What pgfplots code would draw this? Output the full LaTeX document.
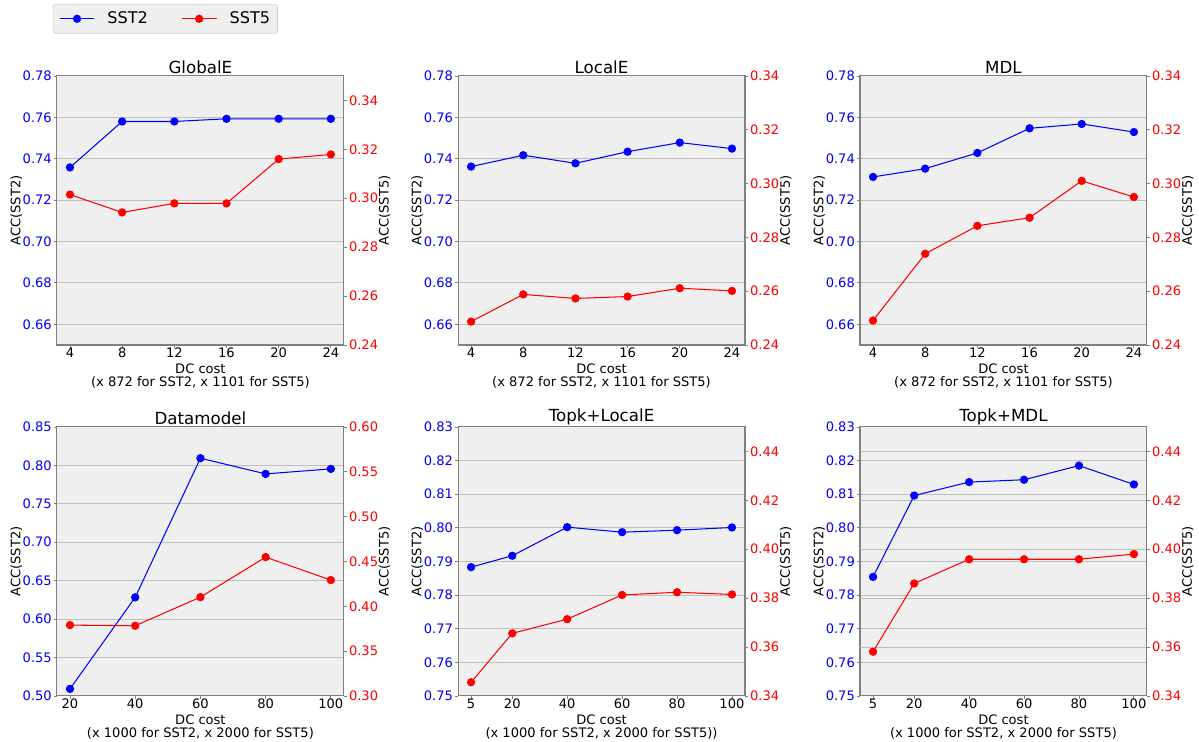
\documentclass[border=0pt]{standalone}
\usepackage{fontspec}
\setmainfont{DejaVu Sans}
\usepackage{pgfplots}
\usepackage{pgfplotstable}
\pgfplotsset{compat=1.18}
\definecolor{bgc}{RGB}{239,239,239}
\definecolor{gridc}{RGB}{190,190,190}
\definecolor{spinec}{RGB}{128,128,128}
\definecolor{legc}{RGB}{204,204,204}

\pgfplotstableread{
x sst2 sst5
4 0.7358 0.3015
8 0.7580 0.2942
12 0.7580 0.2979
16 0.7593 0.2979
20 0.7593 0.3160
24 0.7593 0.3179
}\globale
\pgfplotstableread{
x sst2 sst5
4 0.7362 0.2487
8 0.7417 0.2588
12 0.7378 0.2573
16 0.7434 0.2580
20 0.7478 0.2611
24 0.7449 0.2601
}\locale
\pgfplotstableread{
x sst2 sst5
4 0.7312 0.2491
8 0.7352 0.2739
12 0.7428 0.2843
16 0.7547 0.2873
20 0.7568 0.3010
24 0.7529 0.2950
}\mdl
\pgfplotstableread{
x sst2 sst5
20 0.5092 0.3790
40 0.6283 0.3783
60 0.8093 0.4102
80 0.7889 0.4548
100 0.7954 0.4292
}\datamodel
\pgfplotstableread{
x sst2 sst5
5 0.7883 0.3456
20 0.7917 0.3656
40 0.8002 0.3714
60 0.7987 0.3813
80 0.7993 0.3824
100 0.8001 0.3815
}\topklocale
\pgfplotstableread{
x sst2 sst5
5 0.7854 0.3581
20 0.8096 0.3860
40 0.8136 0.3959
60 0.8143 0.3959
80 0.8185 0.3959
100 0.8129 0.3980
}\topkmdl

\pgfplotsset{
  base/.style={
    scale only axis, width=206.6pt, height=193.7pt,
    tick label style={font=\fontsize{9.4}{11}\selectfont},
    label style={font=\fontsize{9.4}{10.1}\selectfont},
    /pgf/number format/assume math mode=true,
    tick align=outside, major tick length=2pt,
    tick style={spinec, line width=0.6pt},
    axis line style={spinec, line width=0.75pt},
    scaled y ticks=false,
  },
  leftax/.style={
    base,
    axis background/.style={fill=bgc},
    ymajorgrids, major grid style={gridc, line width=0.75pt},
    xtick pos=bottom, ytick pos=left,
    yticklabel style={text=blue, inner xsep=1.5pt, /pgf/number format/fixed, /pgf/number format/fixed zerofill, /pgf/number format/precision=2},
    xticklabel style={yshift=3.7pt},
    ylabel={ACC(SST2)},
    ylabel style={at={(axis description cs:-0.142,0.5)}, anchor=center},
    title style={font=\fontsize{12}{14}\selectfont, yshift=-7.8pt},
    xlabel style={align=center, yshift=2.2pt},
  },
  rightax/.style={
    base,
    axis x line=none, axis y line*=right,
    yticklabel style={text=red, inner xsep=1.5pt, /pgf/number format/fixed, /pgf/number format/fixed zerofill, /pgf/number format/precision=2},
    ylabel={ACC(SST5)},
    ylabel style={at={(axis description cs:1.142,0.5)}, anchor=center},
  },
  s2/.style={blue, line width=0.75pt, mark=*, mark size=2.6pt},
  s5/.style={red, line width=0.75pt, mark=*, mark size=2.6pt},
}

\begin{document}
\begin{tikzpicture}
\useasboundingbox (0,0) rectangle (863.3pt,534.2pt);

% ---------- GlobalE
\begin{axis}[leftax, at={(41pt,285.8pt)}, anchor=south west, title={GlobalE},
  xmin=3, xmax=25, xtick={4,8,12,16,20,24},
  ymin=0.65, ymax=0.78, ytick={0.66,0.68,0.70,0.72,0.74,0.76,0.78},
  xlabel={DC cost\\[-0.7pt](x 872 for SST2, x 1101 for SST5)},
  legend columns=2,
  legend image code/.code={\draw[mark repeat=2,mark phase=2,#1] plot coordinates {(0pt,0pt) (12.5pt,0pt) (25pt,0pt)};},
  legend style={at={(-0.014,1.268)}, anchor=north west, fill=bgc, draw=legc, rounded corners=2pt,
    font=\fontsize{11.6}{13}\selectfont, inner xsep=4.3pt, inner ysep=4.5pt,
    nodes={inner sep=1pt},
    /tikz/column 1/.style={column sep=8pt},
    /tikz/column 2/.style={column sep=23pt},
    /tikz/column 3/.style={column sep=8pt}},
]
\addplot[s2] table[x=x,y=sst2]{\globale};
\addlegendentry{SST2}
\addlegendimage{s5}
\addlegendentry{SST5}
\end{axis}
\begin{axis}[rightax, at={(41pt,285.8pt)}, anchor=south west,
  xmin=3, xmax=25, ymin=0.24, ymax=0.35, ytick={0.24,0.26,0.28,0.30,0.32,0.34}]
\addplot[s5] table[x=x,y=sst5]{\globale};
\end{axis}

% ---------- LocalE
\begin{axis}[leftax, at={(329.8pt,285.8pt)}, anchor=south west, title={LocalE},
  xmin=3, xmax=25, xtick={4,8,12,16,20,24},
  ymin=0.65, ymax=0.78, ytick={0.66,0.68,0.70,0.72,0.74,0.76,0.78},
  xlabel={DC cost\\[-0.7pt](x 872 for SST2, x 1101 for SST5)}]
\addplot[s2] table[x=x,y=sst2]{\locale};
\end{axis}
\begin{axis}[rightax, at={(329.8pt,285.8pt)}, anchor=south west,
  xmin=3, xmax=25, ymin=0.24, ymax=0.34, ytick={0.24,0.26,0.28,0.30,0.32,0.34}]
\addplot[s5] table[x=x,y=sst5]{\locale};
\end{axis}

% ---------- MDL
\begin{axis}[leftax, at={(619.2pt,285.8pt)}, anchor=south west, title={MDL},
  xmin=3, xmax=25, xtick={4,8,12,16,20,24},
  ymin=0.65, ymax=0.78, ytick={0.66,0.68,0.70,0.72,0.74,0.76,0.78},
  xlabel={DC cost\\[-0.7pt](x 872 for SST2, x 1101 for SST5)}]
\addplot[s2] table[x=x,y=sst2]{\mdl};
\end{axis}
\begin{axis}[rightax, at={(619.2pt,285.8pt)}, anchor=south west,
  xmin=3, xmax=25, ymin=0.24, ymax=0.34, ytick={0.24,0.26,0.28,0.30,0.32,0.34}]
\addplot[s5] table[x=x,y=sst5]{\mdl};
\end{axis}

% ---------- Datamodel
\begin{axis}[leftax, at={(41pt,33.1pt)}, anchor=south west, title={Datamodel},
  xmin=16, xmax=104, xtick={20,40,60,80,100},
  ymin=0.50, ymax=0.85, ytick={0.50,0.55,0.60,0.65,0.70,0.75,0.80,0.85},
  xlabel={DC cost\\[-0.7pt](x 1000 for SST2, x 2000 for SST5)}]
\addplot[s2] table[x=x,y=sst2]{\datamodel};
\end{axis}
\begin{axis}[rightax, at={(41pt,33.1pt)}, anchor=south west,
  xmin=16, xmax=104, ymin=0.30, ymax=0.60, ytick={0.30,0.35,0.40,0.45,0.50,0.55,0.60}]
\addplot[s5] table[x=x,y=sst5]{\datamodel};
\end{axis}

% ---------- Topk+LocalE
\begin{axis}[leftax, at={(329.8pt,33.1pt)}, anchor=south west, title={Topk+LocalE},
  xmin=0.25, xmax=104.75, xtick={5,20,40,60,80,100},
  ymin=0.75, ymax=0.83, ytick={0.75,0.76,0.77,0.78,0.79,0.80,0.81,0.82,0.83},
  xlabel={DC cost\\[-0.7pt](x 1000 for SST2, x 2000 for SST5))}]
\addplot[s2] table[x=x,y=sst2]{\topklocale};
\end{axis}
\begin{axis}[rightax, at={(329.8pt,33.1pt)}, anchor=south west,
  xmin=0.25, xmax=104.75, ymin=0.34, ymax=0.45, ytick={0.34,0.36,0.38,0.40,0.42,0.44}]
\addplot[s5] table[x=x,y=sst5]{\topklocale};
\end{axis}

% ---------- Topk+MDL
\begin{axis}[leftax, at={(619.2pt,33.1pt)}, anchor=south west, title={Topk+MDL},
  xmin=0.25, xmax=104.75, xtick={5,20,40,60,80,100},
  ymin=0.75, ymax=0.83, ytick={0.75,0.76,0.77,0.78,0.79,0.80,0.81,0.82,0.83},
  extra y ticks={0.76455,0.77909,0.79364,0.80818,0.82273},
  extra y tick labels={},
  extra y tick style={major tick length=0pt, grid style={white!55!bgc, line width=0.75pt}},
  xlabel={DC cost\\[-0.7pt](x 1000 for SST2, x 2000 for SST5)}]
\addplot[s2] table[x=x,y=sst2]{\topkmdl};
\end{axis}
\begin{axis}[rightax, at={(619.2pt,33.1pt)}, anchor=south west,
  xmin=0.25, xmax=104.75, ymin=0.34, ymax=0.45, ytick={0.34,0.36,0.38,0.40,0.42,0.44}]
\addplot[s5] table[x=x,y=sst5]{\topkmdl};
\end{axis}

\end{tikzpicture}
\end{document}
